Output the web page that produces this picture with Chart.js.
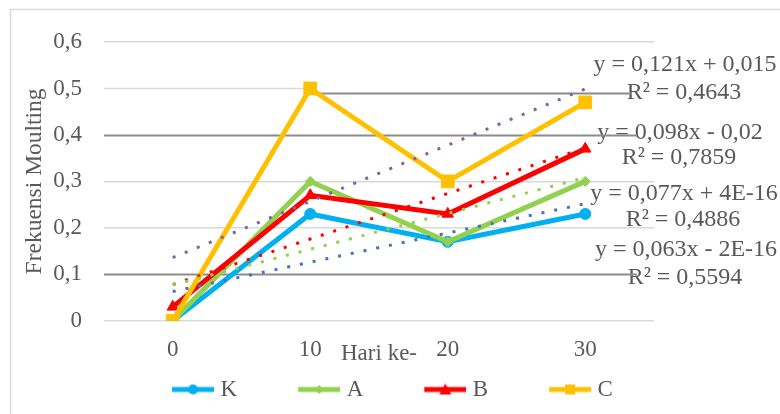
<!DOCTYPE html>
<html>
<head>
<meta charset="utf-8">
<script src="https://cdn.jsdelivr.net/npm/chart.js@4/dist/chart.umd.min.js"></script>
<style>
  html, body { margin: 0; padding: 0; background: #fff; }
  #moultChart { display: block; }
</style>
</head>
<body>
<canvas id="moultChart" width="780" height="414"></canvas>
<script>
// data
const days = ["0", "10", "20", "30"];
const seriesK = [0, 0.23, 0.17, 0.23];
const seriesA = [0, 0.3, 0.17, 0.3];
const seriesB = [0.03, 0.27, 0.23, 0.37];
const seriesC = [0, 0.5, 0.3, 0.47];

// linear trend values (from the equations printed on the chart)
const trendK = [0.063, 0.126, 0.189, 0.252];
const trendA = [0.077, 0.154, 0.231, 0.308];
const trendB = [0.078, 0.176, 0.274, 0.372];
const trendC = [0.136, 0.257, 0.378, 0.499];

const trendText = [
  ["y = 0,121x + 0,015", "R² = 0,4643"],
  ["y = 0,098x - 0,02", "R² = 0,7859"],
  ["y = 0,077x + 4E-16", "R² = 0,4886"],
  ["y = 0,063x - 2E-16", "R² = 0,5594"]
];

const yTicks = [0, 0.1, 0.2, 0.3, 0.4, 0.5, 0.6];
// these gridlines are drawn by hand further down (darker / cut short)
const oddGrid = [0.1, 0.4, 0.5];

const FONT = "'Liberation Serif', 'Times New Roman', serif";
const GREY = "#595959";

// legend glyph: thick line with the marker in the middle
function legendGlyph(color, shape) {
  const c = document.createElement("canvas");
  c.width = 52;
  c.height = 16;
  const g = c.getContext("2d");
  g.strokeStyle = color;
  g.fillStyle = color;
  g.lineWidth = 5;
  g.beginPath();
  g.moveTo(10, 8);
  g.lineTo(52, 8);
  g.stroke();
  const cx = 31, cy = 8;
  g.beginPath();
  if (shape === "circle") {
    g.arc(cx, cy, 5, 0, Math.PI * 2);
  } else if (shape === "diamond") {
    g.moveTo(cx, cy - 4.5); g.lineTo(cx + 4.5, cy); g.lineTo(cx, cy + 4.5); g.lineTo(cx - 4.5, cy);
    g.closePath();
  } else if (shape === "triangle") {
    g.moveTo(cx, cy - 6); g.lineTo(cx + 6, cy + 5); g.lineTo(cx - 6, cy + 5);
    g.closePath();
  } else {
    g.rect(cx - 5, cy - 5, 10, 10);
  }
  g.fill();
  return c;
}

function series(label, data, color, pointStyle, radius, order) {
  return {
    label,
    data,
    borderColor: color,
    backgroundColor: color,
    borderWidth: 5,
    pointStyle,
    pointRadius: radius,
    pointBorderWidth: 1,
    pointBackgroundColor: color,
    pointBorderColor: color,
    tension: 0,
    order
  };
}

function trend(data, color) {
  return {
    label: "trend",
    data,
    borderColor: color,
    borderWidth: 3,
    borderDash: [3, 10],
    borderCapStyle: "butt",
    pointRadius: 0,
    tension: 0,
    order: 0
  };
}

const glyphs = {
  K: legendGlyph("#00B0F0", "circle"),
  A: legendGlyph("#92D050", "diamond"),
  B: legendGlyph("#FF0000", "triangle"),
  C: legendGlyph("#FFC000", "square")
};

// white background + chart frame
const framePlugin = {
  id: "frame",
  beforeDraw(chart) {
    const ctx = chart.ctx;
    ctx.save();
    ctx.fillStyle = "#fff";
    ctx.fillRect(0, 0, chart.width, chart.height);
    ctx.strokeStyle = "#d9d9d9";
    ctx.lineWidth = 1.5;
    ctx.strokeRect(10.5, 9.5, 900, 600);
    ctx.restore();
  }
};

// trendline equations and the darker rules that cut through them
const trendLabelPlugin = {
  id: "trendLabels",
  beforeDatasetsDraw(chart) {
    const ctx = chart.ctx;
    const y = chart.scales.y;
    const x = chart.scales.x;
    const area = chart.chartArea;
    ctx.save();

    // 0,5 gridline: light part only up to day 10
    const py50 = Math.round(y.getPixelForValue(0.5)) + 0.5;
    ctx.strokeStyle = "#d9d9d9";
    ctx.lineWidth = 1.5;
    ctx.beginPath();
    ctx.moveTo(area.left, py50);
    ctx.lineTo(x.getPixelForValue(1), py50);
    ctx.stroke();

    ctx.font = "24px " + FONT;
    ctx.fillStyle = GREY;
    ctx.textAlign = "center";
    ctx.textBaseline = "middle";
    const rows = [[65, 93], [133, 158], [194, 220], [250, 278]];
    const cx = [685, 680, 684, 686];
    trendText.forEach((t, i) => {
      ctx.fillText(t[0], cx[i], rows[i][0]);
      ctx.fillText(t[1], cx[i] - 1, rows[i][1]);
    });

    ctx.strokeStyle = "#8c8c8c";
    ctx.lineWidth = 2;
    [0.1, 0.4].forEach((v) => {
      const py = Math.round(y.getPixelForValue(v)) + 0.5;
      ctx.beginPath();
      ctx.moveTo(area.left, py);
      ctx.lineTo(637, py);
      ctx.stroke();
    });
    const py5 = Math.round(y.getPixelForValue(0.5)) + 5.5;
    ctx.beginPath();
    ctx.moveTo(x.getPixelForValue(1), py5);
    ctx.lineTo(632, py5);
    ctx.stroke();
    ctx.restore();
  }
};

new Chart(document.getElementById("moultChart"), {
  type: "line",
  data: {
    labels: days,
    datasets: [
      series("K", seriesK, "#00B0F0", "circle", 5.5, 4),
      series("A", seriesA, "#92D050", "rectRot", 5, 3),
      series("B", seriesB, "#FF0000", "triangle", 6.5, 2),
      series("C", seriesC, "#FFC000", "rect", 9, 1),
      trend(trendK, "#4472C4"),
      trend(trendA, "#92D050"),
      trend(trendB, "#FF0000"),
      trend(trendC, "#8064A2")
    ]
  },
  options: {
    responsive: false,
    animation: false,
    events: [],
    layout: { padding: { left: 0, right: 0, top: 42, bottom: 3 } },
    scales: {
      x: {
        type: "category",
        offset: true,
        grid: { display: false, drawTicks: false },
        border: { display: false },
        ticks: { color: GREY, font: { family: FONT, size: 23 }, padding: 15 },
        title: {
          display: true,
          text: "Hari ke-",
          color: GREY,
          font: { family: FONT, size: 23 },
          padding: { top: -38, bottom: 0 }
        }
      },
      y: {
        min: 0,
        max: 0.6,
        afterFit: (s) => { s.width = 104; },
        afterBuildTicks: (s) => { s.ticks = yTicks.map((v) => ({ value: v })); },
        grid: {
          color: (c) => (oddGrid.includes(c.tick.value) ? "rgba(0,0,0,0)" : "#d9d9d9"),
          lineWidth: 1.5,
          drawTicks: false
        },
        border: { display: false },
        ticks: {
          color: GREY,
          font: { family: FONT, size: 23 },
          padding: 22,
          callback: (v) => (v === 0 ? "0" : v.toFixed(1).replace(".", ","))
        },
        title: {
          display: true,
          text: "Frekuensi Moulting",
          color: GREY,
          font: { family: FONT, size: 23.5 },
          padding: { top: 21, bottom: 0 }
        }
      },
      yRight: {
        position: "right",
        min: 0,
        max: 0.6,
        afterFit: (s) => { s.width = 126; },
        grid: { display: false },
        border: { display: false },
        ticks: { display: false }
      }
    },
    plugins: {
      legend: {
        position: "bottom",
        labels: {
          color: GREY,
          font: { family: FONT, size: 23 },
          usePointStyle: true,
          pointStyleWidth: 42,
          boxHeight: 16,
          padding: 10,
          filter: (item) => item.text !== "trend",
          generateLabels: (chart) =>
            chart.data.datasets.slice(0, 4).map((ds, i) => ({
              text: i < 3 ? ds.label + "        " : ds.label,
              pointStyle: glyphs[ds.label],
              fillStyle: ds.borderColor,
              strokeStyle: ds.borderColor,
              fontColor: GREY,
              lineWidth: 0,
              hidden: false,
              datasetIndex: i
            }))
        }
      },
      tooltip: { enabled: false }
    }
  },
  plugins: [framePlugin, trendLabelPlugin]
});
</script>
</body>
</html>
